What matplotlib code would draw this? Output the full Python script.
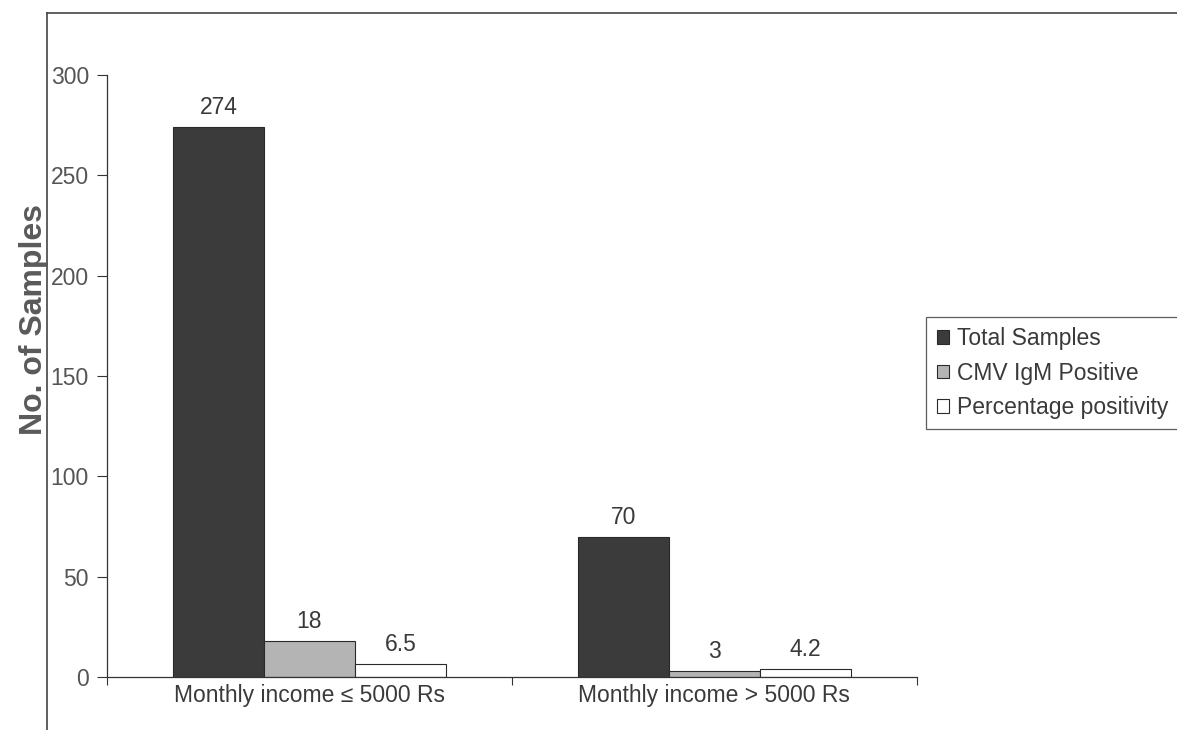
import numpy as np
import matplotlib.pyplot as plt
from matplotlib.lines import Line2D
from matplotlib.patches import Patch

plt.rcParams['font.family'] = ['Liberation Sans', 'DejaVu Sans']

categories = ['Monthly income \u2264 5000 Rs', 'Monthly income > 5000 Rs']
series_names = ['Total Samples', 'CMV IgM Positive', 'Percentage positivity']
total_samples = [274, 70]
cmv_positive = [18, 3]
pct_positivity = [6.5, 4.2]
yticks = [0, 50, 100, 150, 200, 250, 300]

txt = '#3a3a3a'
face = ['#3b3b3b', '#b4b4b4', 'white']
fs = 16.5

fig = plt.figure(figsize=(11.77, 7.30), dpi=100)
ax = fig.add_axes([0.0909, 0.0726, 0.688, 0.8245])

x = np.arange(len(categories))
w = 0.225
series = [total_samples, cmv_positive, pct_positivity]
for i, vals in enumerate(series):
    pos = x + (i - 1) * w
    ax.bar(pos, vals, w, color=face[i], edgecolor='#2a2a2a', linewidth=0.8)
    for p, v in zip(pos, vals):
        ax.text(p, v + 4, f'{v:g}', ha='center', va='bottom', fontsize=fs, color=txt)

ax.set_xlim(-0.5, 1.5)
ax.set_ylim(0, 300)
ax.set_yticks(yticks)
ax.set_yticklabels([str(t) for t in yticks], fontsize=fs, color='#555555')
ax.tick_params(axis='y', direction='out', length=7, width=0.8, color='#333333', pad=6)

# category ticks sit between the groups
ax.set_xticks([-0.5, 0.5, 1.5])
ax.set_xticklabels([])
ax.tick_params(axis='x', direction='out', length=6, width=0.8, color='#333333')
for xi, lab in zip(x, categories):
    ax.text(xi, -3.5, lab, ha='center', va='top', fontsize=fs, color=txt)

for s in ['top', 'right']:
    ax.spines[s].set_visible(False)
for s in ['left', 'bottom']:
    ax.spines[s].set_color('#333333')
    ax.spines[s].set_linewidth(0.9)

fig.text(0.029, 0.562, 'No. of Samples', rotation=90, ha='center', va='center',
         fontsize=23, fontweight='bold', color='#5a5a5a')

handles = [Patch(facecolor=face[i], edgecolor='#2a2a2a', linewidth=0.8) for i in range(3)]
leg = fig.legend(handles, series_names, loc='upper left', bbox_to_anchor=(0.787, 0.566),
                 fontsize=fs, frameon=True, fancybox=False, handlelength=0.55,
                 handleheight=0.55, handletextpad=0.35, borderpad=0.45, labelspacing=0.5,
                 borderaxespad=0)
leg.get_frame().set_edgecolor('#333333')
leg.get_frame().set_linewidth(0.9)
for t in leg.get_texts():
    t.set_color(txt)

# outer chart border
fig.add_artist(Line2D([0.040, 1.0], [0.982, 0.982], color='#444444', lw=1.2))
fig.add_artist(Line2D([0.040, 0.040], [0.0, 0.982], color='#444444', lw=1.2))

fig.savefig('out.png', dpi=100)
